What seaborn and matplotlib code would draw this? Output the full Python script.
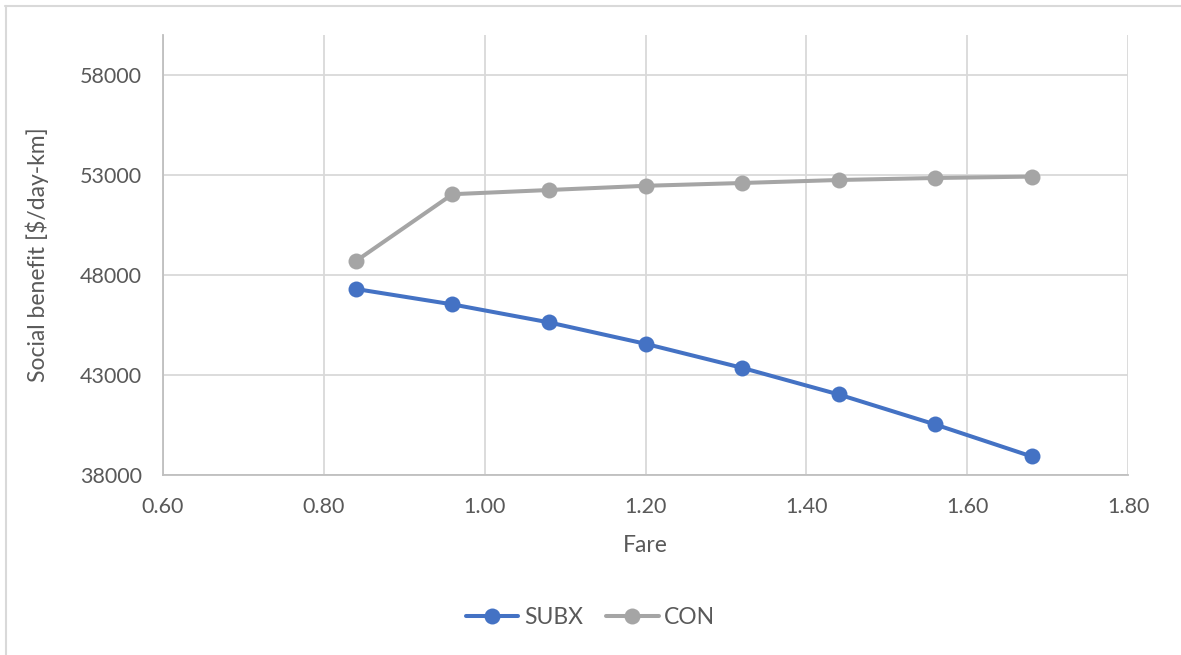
import matplotlib
matplotlib.use("Agg")
import matplotlib.pyplot as plt
from matplotlib.lines import Line2D
import seaborn as sns
import pandas as pd

# Fare levels and social benefit for each scheme
fares = [0.84, 0.96, 1.08, 1.20, 1.32, 1.44, 1.56, 1.68]
subx = [47300, 46530, 45630, 44560, 43360, 42030, 40530, 38930]
con = [48700, 52040, 52250, 52460, 52600, 52750, 52850, 52920]
series_names = ["SUBX", "CON"]
x_ticks = [0.60, 0.80, 1.00, 1.20, 1.40, 1.60, 1.80]
y_ticks = [38000, 43000, 48000, 53000, 58000]

df = pd.DataFrame({
    "Fare": fares * 2,
    "Benefit": subx + con,
    "Scheme": [series_names[0]] * len(fares) + [series_names[1]] * len(fares),
})

sns.set_theme(style="white")
plt.rcParams["font.family"] = ["Lato", "DejaVu Sans"]

text_color = "#595959"
grid_color = "#D9D9D9"
palette = {"SUBX": "#4472C4", "CON": "#A5A5A5"}

W, H = 1181, 655
fig = plt.figure(figsize=(W / 100, H / 100), dpi=100)
ax = fig.add_axes([163 / W, 1 - 475 / H, (1128 - 163) / W, (475 - 35) / H])

sns.lineplot(data=df, x="Fare", y="Benefit", hue="Scheme", palette=palette,
             marker="o", markersize=11.5, markeredgewidth=0, linewidth=2.9,
             ax=ax, legend=False, zorder=3)

ax.set_xlim(0.60, 1.80)
ax.set_ylim(38000, 60000)
ax.set_xticks(x_ticks)
ax.set_xticklabels([f"{v:.2f}" for v in x_ticks])
ax.set_yticks(y_ticks)
ax.set_yticklabels([str(v) for v in y_ticks])
ax.grid(True, color=grid_color, linewidth=1.3, zorder=0)
ax.tick_params(axis="both", length=0, labelsize=15.5, colors=text_color)
ax.tick_params(axis="x", pad=16)
ax.tick_params(axis="y", pad=15)

for side in ["top", "right"]:
    ax.spines[side].set_visible(False)
for side in ["left", "bottom"]:
    ax.spines[side].set_color("#BFBFBF")
    ax.spines[side].set_linewidth(1.3)

ax.set_xlabel("Fare", fontsize=16.5, color=text_color, labelpad=13)
ax.set_ylabel("Social benefit [$/day-km]", fontsize=16.5, color=text_color, labelpad=22)

handles = [Line2D([], [], color=palette[n], marker="o", markersize=11.5,
                  markeredgewidth=0, linewidth=2.9) for n in series_names]
fig.legend(handles, series_names, loc="center", bbox_to_anchor=(0.5, 1 - 618 / H),
           ncol=2, frameon=False, fontsize=16.5, labelcolor=text_color,
           handlelength=2.3, columnspacing=1.0, handletextpad=0.25)

# Chart-area outline (top and left edges)
fig.add_artist(Line2D([5 / W, 1], [1 - 6 / H, 1 - 6 / H], color="#D9D9D9", linewidth=1.5,
                      transform=fig.transFigure))
fig.add_artist(Line2D([6 / W, 6 / W], [0, 1 - 6 / H], color="#D9D9D9", linewidth=1.5,
                      transform=fig.transFigure))

fig.savefig("out.png", dpi=100, facecolor="white")
